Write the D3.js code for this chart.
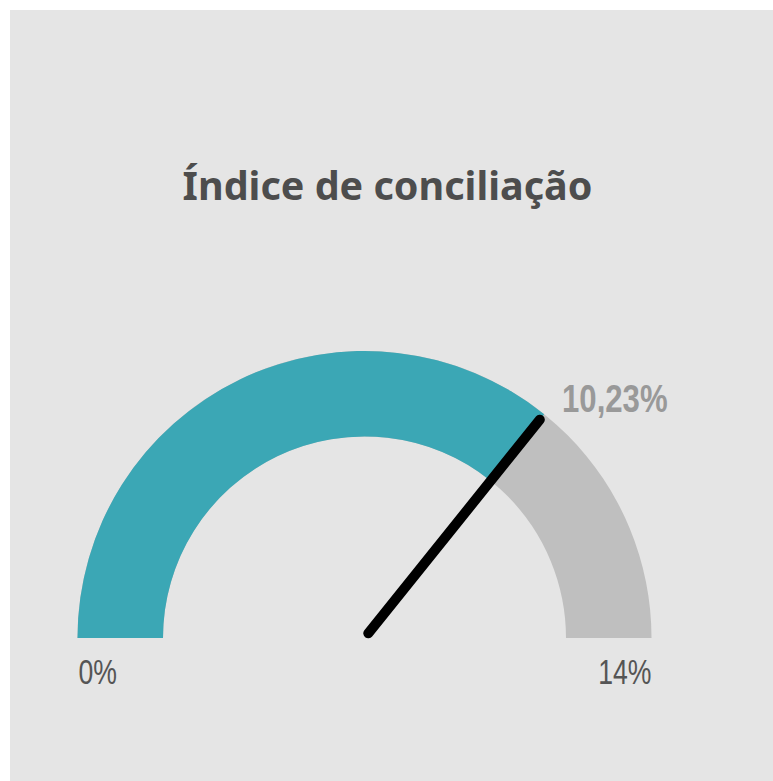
<!DOCTYPE html>
<html>
<head>
<meta charset="utf-8">
<script src="https://cdn.jsdelivr.net/npm/d3@7"></script>
<style>
  body { margin: 0; background: #fff; }
  svg { display: block; }
</style>
</head>
<body>
<svg id="chart" width="773" height="781"></svg>
<script>
// Gauge data
const title = "Índice de conciliação"
const gaugeValue = [10.23]
const gaugeRange = [0, 14.3]   // max shown rounded as "14%"

const width = 773
const height = 781
const cx = 364.5, cy = 638
const outerR = 287, innerR = 201.5

const fmtValue = d => d3.format(".2f")(d).replace(".", ",") + "%"
const fmtTick = d => d3.format(".0f")(d) + "%"

const svg = d3.select("#chart")

// panel background
svg.append("rect")
    .attr("x", 10).attr("y", 10)
    .attr("width", width - 10).attr("height", height - 10)
    .attr("fill", "#e5e5e5")

svg.append("text")
    .attr("x", 387.5).attr("y", 200)
    .attr("text-anchor", "middle")
    .attr("font-family", "'Noto Sans', sans-serif")
    .attr("font-weight", "bold")
    .attr("font-size", 39.5)
    .attr("fill", "#4d4d4d")
    .text(title)

// value -> angle (radians, d3.arc convention: 0 = up)
const angle = d3.scaleLinear().domain(gaugeRange).range([-Math.PI / 2, Math.PI / 2])

const arc = d3.arc().innerRadius(innerR).outerRadius(outerR)
const g = svg.append("g").attr("transform", `translate(${cx},${cy})`)

g.append("path")
    .attr("d", arc({ startAngle: angle(gaugeRange[0]), endAngle: angle(gaugeRange[1]) }))
    .attr("fill", "#bfbfbf")
g.append("path")
    .attr("d", arc({ startAngle: angle(gaugeRange[0]), endAngle: angle(gaugeValue[0]) }))
    .attr("fill", "#3ba7b5")

// needle
const a = angle(gaugeValue[0])
const r0 = 6, r1 = 280
g.append("line")
    .attr("x1", r0 * Math.sin(a)).attr("y1", -r0 * Math.cos(a))
    .attr("x2", r1 * Math.sin(a)).attr("y2", -r1 * Math.cos(a))
    .attr("stroke", "#000")
    .attr("stroke-width", 10)
    .attr("stroke-linecap", "round")

// labels, squeezed horizontally to look like a narrow face
const font = "'Liberation Sans', Arial, sans-serif"
const narrowText = (x, y, sx) => svg.append("text")
    .attr("transform", `translate(${x},${y}) scale(${sx},1)`)
    .attr("font-family", font)

narrowText(562, 412, 0.82)
    .attr("font-weight", "bold")
    .attr("font-size", 38)
    .attr("fill", "#999")
    .text(fmtValue(gaugeValue[0]))

narrowText(cx - outerR + 1, 684, 0.74)
    .attr("font-size", 36)
    .attr("fill", "#555")
    .text(fmtTick(gaugeRange[0]))

narrowText(cx + outerR, 684, 0.74)
    .attr("text-anchor", "end")
    .attr("font-size", 36)
    .attr("fill", "#555")
    .text(fmtTick(gaugeRange[1]))
</script>
</body>
</html>
